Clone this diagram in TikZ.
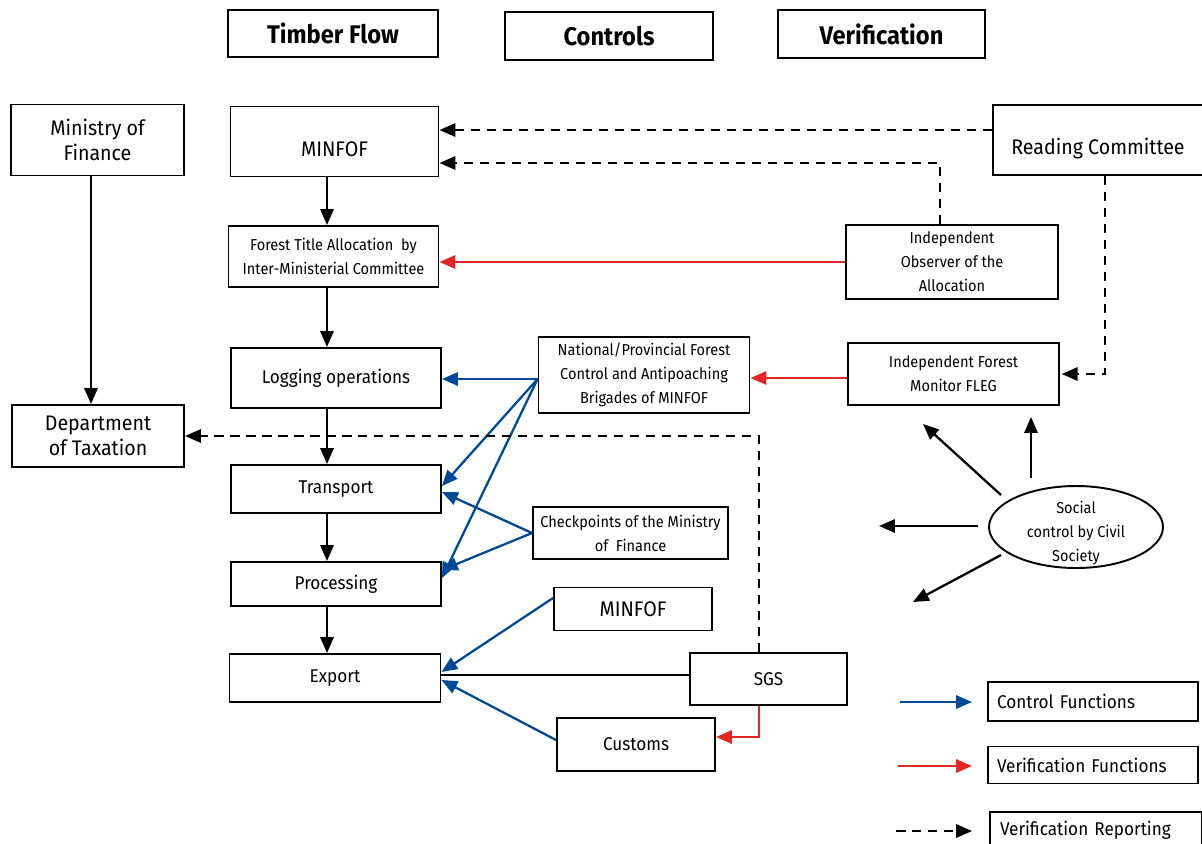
\documentclass[tikz,border=0pt]{standalone}
\usepackage{fontspec}
\setmainfont{Fira Sans}[FakeStretch=0.93]
\newfontfamily\narrowfont{Fira Sans}[FakeStretch=0.92]
\usetikzlibrary{arrows.meta,positioning,shapes}
\definecolor{ctrlblue}{RGB}{0,72,152}
\definecolor{verred}{RGB}{226,38,36}

\begin{document}
\begin{tikzpicture}[x=0.02cm,y=-0.02cm,>={Triangle[length=9pt,width=7.5pt]},
                    line width=1.3pt,
                    sz/.style 2 args={minimum width=#1*0.02cm,minimum height=#2*0.02cm},
                    box/.style={draw,line width=1.1pt,align=center,inner sep=1pt},
                    hdr/.style={box,font=\bfseries\fontsize{14.5}{17}\selectfont},
                    bigtxt/.style={box,font=\fontsize{12}{14.5}\selectfont},
                    midtxt/.style={box,font=\fontsize{10.5}{13}\selectfont},
                    smalltxt/.style={box,font=\narrowfont\fontsize{9}{13.6}\selectfont},
                    legend/.style={draw,line width=1.1pt,font=\fontsize{10.5}{13}\selectfont,
                                   text width=3.84cm,align=left,inner xsep=0.18cm},
                    flow/.style={->,black},
                    ctrl/.style={->,ctrlblue},
                    verif/.style={->,verred},
                    report/.style={->,dash pattern=on 5.4pt off 3.7pt}]

        \useasboundingbox (0,0) rectangle (1202,843);
        \clip (0,0) rectangle (1202,843);

        % column headers
        \node[hdr,sz={210}{47}] (timber) at (333,33.5) {Timber Flow};
        \node[hdr,sz={208}{48}] (controls) at (609,36) {Controls};
        \node[hdr,sz={207}{48}] (verification) at (881.5,34) {Verification};

        % timber flow
        \node[bigtxt,sz={173}{71}] (minfin) at (97.5,140) {Ministry of\\Finance};
        \node[bigtxt,sz={208}{70}] (minfof) at (334.5,141.5) {\raisebox{-8.5pt}[0pt][0pt]{MINFOF}};
        \node[smalltxt,sz={210}{61}] (fta) at (333.5,256.5) {Forest Title Allocation\ \ by\\Inter-Ministerial Committee};
        \node[midtxt,sz={210}{60}] (logging) at (336,378) {Logging operations};
        \node[bigtxt,sz={172}{62}] (taxation) at (98,436) {Department\\of Taxation};
        \node[midtxt,sz={210}{48}] (transport) at (336,489) {Transport};
        \node[midtxt,sz={210}{44}] (processing) at (336,584) {Processing};
        \node[midtxt,sz={211}{48}] (export) at (335,678) {Export};

        % controls
        \node[smalltxt,sz={211}{76}] (brigades) at (644,375) {National/Provincial Forest\\Control and Antipoaching\\Brigades of MINFOF};
        \node[smalltxt,sz={195}{52}] (checkpoints) at (630.5,533) {Checkpoints of the Ministry\\of\ \ Finance};
        \node[bigtxt,sz={158}{43}] (minfof2) at (633,609) {MINFOF};
        \node[midtxt,sz={157}{52}] (sgs) at (768.5,679) {SGS};
        \node[midtxt,sz={158}{53}] (customs) at (636,744.5) {Customs};

        % verification
        \node[bigtxt,sz={210}{70}] (reading) at (1098,140) {\raisebox{-8pt}[0pt][0pt]{Reading Committee}};
        \node[smalltxt,sz={212}{74}] (observer) at (952,262) {Independent\\Observer of the\\Allocation};
        \node[smalltxt,sz={211}{62}] (fleg) at (953.5,374) {Independent Forest\\Monitor FLEG};
        \node[font=\narrowfont\fontsize{9}{13.6}\selectfont,align=center] (social) at (1076,533) {Social\\control by Civil\\Society};
        \draw[line width=1.1pt] (1076,527) ellipse [x radius=1.74cm,y radius=0.82cm];

        % legend
        \node[legend,sz={210}{39}] (lgctrl) at (1093,701.5) {Control Functions};
        \node[legend,sz={210}{37}] (lgverif) at (1093,765) {Verification Functions};
        \node[legend,sz={212}{36}] (lgreport) at (1096,830) {Verification Reporting};

        \coordinate (col) at (327,0);
        \coordinate (bw) at ([yshift=-0.08cm]brigades.west);

        % timber flow arrows
        \foreach \a/\b in {minfof/fta,fta/logging,logging/transport,transport/processing,processing/export}
            \draw[flow] (\a.south -| col) -- (\b.north -| col);
        \draw[flow] ([xshift=-0.13cm]minfin.south) -- ([xshift=-0.13cm]minfin.south |- taxation.north);

        % control functions
        \path (bw) edge[ctrl] (bw -| logging.east)
                   edge[ctrl] ([yshift=0.06cm]transport.east)
                   edge[ctrl] ([yshift=0.12cm]processing.east)
              (checkpoints.west) edge[ctrl] ([yshift=-0.06cm]transport.east)
                   edge[ctrl] ([yshift=0.28cm]processing.east)
              ([yshift=0.22cm]minfof2.west) edge[ctrl] ([yshift=0.12cm]export.east)
              ([yshift=0.09cm]customs.west) edge[ctrl] ([yshift=-0.04cm]export.east);
        \draw ([yshift=0.08cm]sgs.west) -- ([yshift=0.08cm]sgs.west -| export.east);

        % verification functions
        \draw[verif] (observer.west) -- (observer.west -| fta.east);
        \draw[verif] ([yshift=-0.08cm]fleg.west) -- ([yshift=-0.08cm]fleg.west -| brigades.east);
        \draw[verif] ([xshift=-0.19cm]sgs.south) |- ([yshift=0.15cm]customs.east);

        % verification reporting
        \draw[report] ([yshift=0.2cm]reading.west) -- ([yshift=0.2cm]reading.west -| minfof.east);
        \draw[report] ([xshift=-0.24cm]observer.north) |- ([yshift=-0.43cm]minfof.east);
        \draw[report,shorten >=1pt] ([xshift=0.14cm]reading.south) |- (fleg.east);
        \draw[report] ([xshift=-0.19cm]sgs.north) |- (taxation.east);

        % social control
        \coordinate (s1) at (1031,478);  \coordinate (e1) at (1031,417);
        \coordinate (s2) at (1001,495);  \coordinate (e2) at (923,424);
        \coordinate (s3) at (978,526);   \coordinate (e3) at (879,526);
        \coordinate (s4) at (1001,555);  \coordinate (e4) at (913,602);
        \foreach \i in {1,...,4}
            \draw[flow] (s\i) -- (e\i);

        % legend arrows
        \coordinate (k1) at (900,702);
        \coordinate (k2) at (898,766);
        \coordinate (k3) at (896,831);
        \draw[ctrl,shorten >=0.3cm] (k1) -- (k1 -| lgctrl.west);
        \draw[verif,shorten >=0.3cm] (k2) -- (k2 -| lgverif.west);
        \draw[report,shorten >=0.34cm] (k3) -- (k3 -| lgreport.west);
\end{tikzpicture}
\end{document}
